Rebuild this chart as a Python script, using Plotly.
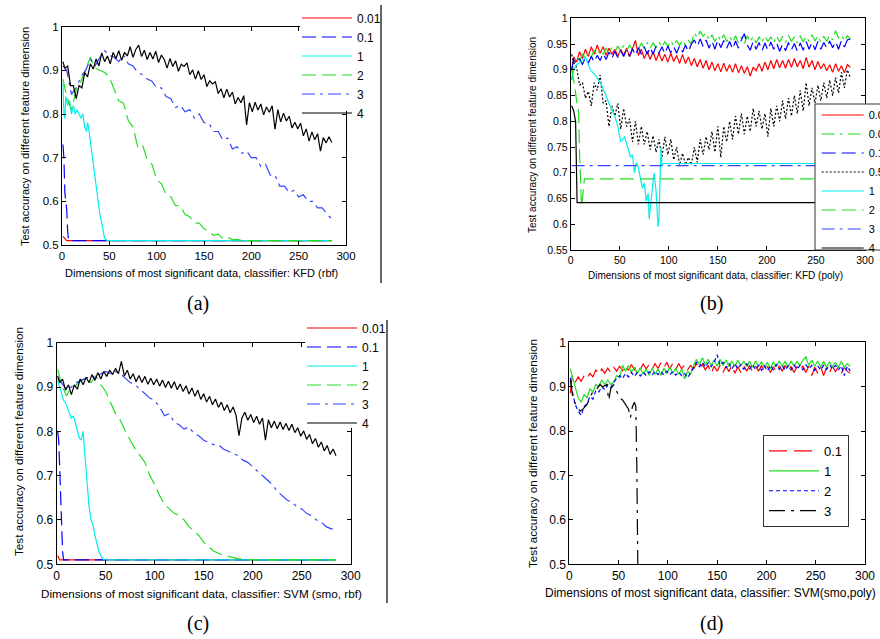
import plotly.graph_objects as go

# ---------------- data ----------------
DIMS = [1] + list(range(5, 286, 5))      # coarse grid of feature dimensions
DIMS3 = [1] + list(range(3, 286, 3))     # finer grid for the noisiest curves

X_TICKS = [0, 50, 100, 150, 200, 250, 300]
X_TICK_TEXT = ["0", "50", "100", "150", "200", "250", "300"]
Y_TICKS = [0.5, 0.6, 0.7, 0.8, 0.9, 1.0]
Y_TICK_TEXT = ["0.5", "0.6", "0.7", "0.8", "0.9", "1"]
Y_TICKS_B = [0.55, 0.6, 0.65, 0.7, 0.75, 0.8, 0.85, 0.9, 0.95, 1.0]
Y_TICK_TEXT_B = ["0.55", "0.6", "0.65", "0.7", "0.75", "0.8", "0.85", "0.9", "0.95", "1"]

# (a) KFD (rbf)
A_001_X = [1, 3, 5, 285]
A_001_Y = [0.52, 0.515, 0.51, 0.51]
A_01_X = [1, 2, 3, 5, 6, 7, 285]
A_01_Y = [0.73, 0.70, 0.62, 0.58, 0.53, 0.51, 0.51]
A_1_X = [1, 2, 3, 4, 6, 8, 10, 12, 14, 16, 18, 20, 22, 24, 26, 27, 28, 30, 32, 34.5, 37, 40, 42, 45, 48, 285]
A_1_Y = [0.87, 0.80, 0.79, 0.84, 0.82, 0.83, 0.80, 0.82, 0.80, 0.81, 0.80, 0.79, 0.80, 0.77, 0.76, 0.78, 0.77,
         0.735, 0.70, 0.655, 0.61, 0.57, 0.55, 0.515, 0.51, 0.51]
A_2_Y = [0.88, 0.84, 0.81, 0.855, 0.875, 0.905, 0.93, 0.905, 0.90, 0.895,
         0.885, 0.855, 0.83, 0.825, 0.785, 0.77, 0.725, 0.73, 0.695, 0.685,
         0.65, 0.64, 0.615, 0.61, 0.59, 0.59, 0.57, 0.565, 0.55, 0.55,
         0.537, 0.532, 0.522, 0.525, 0.515, 0.518, 0.512, 0.513, 0.51, 0.51,
         0.51, 0.51, 0.51, 0.51, 0.51, 0.51, 0.51, 0.51, 0.51, 0.51,
         0.51, 0.51, 0.51, 0.51, 0.51, 0.51, 0.51, 0.51]
A_3_Y = [0.91, 0.90, 0.845, 0.86, 0.885, 0.90, 0.925, 0.91, 0.93, 0.945,
         0.935, 0.93, 0.92, 0.935, 0.915, 0.91, 0.895, 0.89, 0.88, 0.875,
         0.86, 0.86, 0.84, 0.835, 0.815, 0.82, 0.805, 0.81, 0.79, 0.80,
         0.78, 0.78, 0.76, 0.76, 0.74, 0.745, 0.72, 0.725, 0.71, 0.715,
         0.70, 0.70, 0.68, 0.685, 0.66, 0.66, 0.635, 0.635, 0.62, 0.625,
         0.61, 0.615, 0.60, 0.60, 0.585, 0.585, 0.57, 0.56]
A_4_Y = [0.92, 0.905, 0.91, 0.865, 0.865, 0.835, 0.865, 0.86, 0.895, 0.885,
         0.915, 0.903, 0.926, 0.91, 0.94, 0.92, 0.933, 0.915, 0.941, 0.927,
         0.945, 0.923, 0.941, 0.933, 0.954, 0.93, 0.948, 0.958, 0.932, 0.946,
         0.925, 0.941, 0.926, 0.944, 0.918, 0.935, 0.925, 0.905, 0.927, 0.909,
         0.922, 0.898, 0.914, 0.909, 0.917, 0.89, 0.901, 0.88, 0.899, 0.879,
         0.89, 0.863, 0.876, 0.869, 0.874, 0.847, 0.858, 0.837, 0.857, 0.839,
         0.85, 0.823, 0.838, 0.826, 0.842, 0.775, 0.826, 0.805, 0.827, 0.809,
         0.823, 0.798, 0.816, 0.804, 0.819, 0.765, 0.81, 0.782, 0.802, 0.784,
         0.795, 0.768, 0.781, 0.766, 0.779, 0.75, 0.766, 0.738, 0.759, 0.741,
         0.755, 0.715, 0.746, 0.734, 0.748, 0.735]

# (b) KFD (poly)
B_001_Y = [0.90, 0.925, 0.915, 0.935, 0.922, 0.94, 0.926, 0.945, 0.93, 0.948,
           0.932, 0.945, 0.928, 0.942, 0.93, 0.94, 0.926, 0.94, 0.928, 0.942,
           0.925, 0.94, 0.957, 0.928, 0.94, 0.922, 0.936, 0.92, 0.935, 0.918,
           0.932, 0.917, 0.93, 0.915, 0.932, 0.916, 0.928, 0.912, 0.93, 0.912,
           0.925, 0.908, 0.922, 0.906, 0.92, 0.903, 0.918, 0.9, 0.915, 0.898,
           0.912, 0.896, 0.913, 0.897, 0.91, 0.895, 0.912, 0.894, 0.908, 0.893,
           0.906, 0.888, 0.905, 0.898, 0.912, 0.897, 0.915, 0.9, 0.918, 0.902,
           0.92, 0.904, 0.918, 0.903, 0.92, 0.905, 0.922, 0.906, 0.918, 0.902,
           0.924, 0.905, 0.918, 0.9, 0.916, 0.902, 0.912, 0.898, 0.91, 0.895,
           0.912, 0.897, 0.908, 0.894, 0.91, 0.905]
B_005_Y = [0.88, 0.91, 0.925, 0.918, 0.93, 0.922, 0.935, 0.925, 0.938, 0.928,
           0.94, 0.93, 0.942, 0.932, 0.944, 0.934, 0.946, 0.936, 0.947, 0.937,
           0.948, 0.938, 0.95, 0.94, 0.952, 0.941, 0.953, 0.942, 0.952, 0.943,
           0.954, 0.944, 0.955, 0.945, 0.956, 0.946, 0.957, 0.947, 0.958, 0.948,
           0.957, 0.95, 0.972, 0.962, 0.975, 0.965, 0.972, 0.958, 0.968, 0.955,
           0.967, 0.956, 0.968, 0.955, 0.965, 0.953, 0.966, 0.952, 0.964, 0.951,
           0.966, 0.954, 0.965, 0.952, 0.964, 0.953, 0.966, 0.955, 0.964, 0.952,
           0.966, 0.954, 0.965, 0.953, 0.967, 0.955, 0.964, 0.952, 0.966, 0.954,
           0.965, 0.955, 0.968, 0.956, 0.966, 0.954, 0.965, 0.955, 0.967, 0.958,
           0.976, 0.962, 0.968, 0.955, 0.966, 0.96]
B_01_Y = [0.90, 0.92, 0.912, 0.922, 0.91, 0.924, 0.913, 0.926, 0.915, 0.928,
          0.918, 0.932, 0.92, 0.934, 0.922, 0.936, 0.924, 0.937, 0.926, 0.94,
          0.927, 0.941, 0.928, 0.943, 0.93, 0.945, 0.93, 0.944, 0.93, 0.946,
          0.932, 0.945, 0.931, 0.946, 0.933, 0.945, 0.932, 0.947, 0.934, 0.948,
          0.935, 0.95, 0.958, 0.945, 0.96, 0.945, 0.958, 0.942, 0.956, 0.94,
          0.958, 0.943, 0.957, 0.942, 0.955, 0.94, 0.956, 0.942, 0.958, 0.97,
          0.948, 0.938, 0.955, 0.94, 0.953, 0.937, 0.952, 0.938, 0.954, 0.94,
          0.952, 0.936, 0.95, 0.937, 0.953, 0.939, 0.951, 0.936, 0.952, 0.938,
          0.955, 0.94, 0.954, 0.939, 0.955, 0.94, 0.953, 0.942, 0.956, 0.943,
          0.955, 0.94, 0.957, 0.944, 0.958, 0.96]
B_05_Y = [0.93, 0.915, 0.905, 0.87, 0.875, 0.845, 0.858, 0.83, 0.875, 0.86,
          0.89, 0.835, 0.84, 0.79, 0.83, 0.81, 0.835, 0.785, 0.825, 0.79,
          0.805, 0.76, 0.80, 0.755, 0.79, 0.755, 0.78, 0.745, 0.772, 0.74,
          0.765, 0.73, 0.77, 0.735, 0.765, 0.725, 0.75, 0.715, 0.738, 0.715,
          0.73, 0.715, 0.75, 0.72, 0.765, 0.735, 0.77, 0.745, 0.78, 0.74,
          0.79, 0.73, 0.79, 0.76, 0.80, 0.765, 0.81, 0.775, 0.815, 0.775,
          0.81, 0.78, 0.825, 0.79, 0.82, 0.785, 0.815, 0.77, 0.825, 0.79,
          0.83, 0.80, 0.84, 0.805, 0.845, 0.81, 0.85, 0.815, 0.86, 0.82,
          0.875, 0.83, 0.865, 0.835, 0.87, 0.84, 0.875, 0.845, 0.88, 0.85,
          0.885, 0.855, 0.895, 0.865, 0.90, 0.885]
B_1_X = [1, 3, 6, 10, 15, 20, 25, 30, 35, 40, 45, 48, 51, 55, 58, 61, 63, 65, 67, 69, 71, 73, 75, 77, 79,
         80, 81, 82, 84, 85, 87, 89, 90, 92, 93, 95, 285]
B_1_Y = [0.88, 0.90, 0.91, 0.915, 0.925, 0.90, 0.89, 0.875, 0.855, 0.83, 0.81, 0.79, 0.76, 0.77, 0.75, 0.73,
         0.735, 0.70, 0.72, 0.71, 0.69, 0.67, 0.68, 0.645, 0.66, 0.61, 0.63, 0.645, 0.68, 0.70, 0.665, 0.595,
         0.61, 0.75, 0.715, 0.718, 0.718]
B_2_X = [1, 4, 6, 8, 9, 10, 11, 12, 13, 14, 285]
B_2_Y = [0.90, 0.87, 0.84, 0.82, 0.74, 0.66, 0.635, 0.65, 0.665, 0.688, 0.688]
B_3_X = [1, 285]
B_3_Y = [0.714, 0.714]
B_4_X = [1, 3, 5, 5.5, 6.5, 285]
B_4_Y = [0.83, 0.82, 0.80, 0.70, 0.642, 0.642]

# (c) SVM (smo, rbf)
C_001_X = [1, 3, 5, 285]
C_001_Y = [0.52, 0.51, 0.51, 0.51]
C_01_X = [1, 2, 3, 4, 5, 6, 7, 285]
C_01_Y = [0.80, 0.78, 0.72, 0.64, 0.58, 0.53, 0.51, 0.51]
C_1_X = [1, 3, 5, 7, 9, 11, 13, 15, 17, 19, 21, 23, 25, 27, 29, 31, 33, 35, 37, 39, 41, 43, 45, 48, 285]
C_1_Y = [0.915, 0.90, 0.89, 0.87, 0.865, 0.85, 0.84, 0.83, 0.835, 0.82, 0.80, 0.785, 0.78, 0.80, 0.74,
         0.68, 0.63, 0.60, 0.59, 0.565, 0.545, 0.53, 0.52, 0.51, 0.51]
C_2_Y = [0.94, 0.905, 0.88, 0.90, 0.905, 0.915, 0.92, 0.91, 0.925, 0.905,
         0.89, 0.865, 0.84, 0.825, 0.80, 0.78, 0.76, 0.745, 0.73, 0.70,
         0.68, 0.655, 0.635, 0.625, 0.615, 0.61, 0.60, 0.585, 0.575, 0.565,
         0.55, 0.54, 0.53, 0.525, 0.52, 0.518, 0.515, 0.513, 0.512, 0.51,
         0.51, 0.51, 0.51, 0.51, 0.51, 0.51, 0.51, 0.51, 0.51, 0.51,
         0.51, 0.51, 0.51, 0.51, 0.51, 0.51, 0.51, 0.51]
C_3_Y = [0.92, 0.91, 0.895, 0.90, 0.91, 0.915, 0.92, 0.925, 0.92, 0.93,
         0.935, 0.93, 0.935, 0.93, 0.92, 0.91, 0.905, 0.895, 0.885, 0.875,
         0.87, 0.855, 0.835, 0.84, 0.82, 0.815, 0.805, 0.81, 0.795, 0.79,
         0.78, 0.775, 0.77, 0.77, 0.76, 0.755, 0.75, 0.745, 0.735, 0.73,
         0.72, 0.71, 0.70, 0.69, 0.68, 0.665, 0.655, 0.645, 0.64, 0.63,
         0.625, 0.615, 0.61, 0.60, 0.595, 0.585, 0.58, 0.58]
C_4_Y = [0.925, 0.91, 0.918, 0.893, 0.905, 0.883, 0.905, 0.895, 0.918, 0.905,
         0.922, 0.91, 0.928, 0.915, 0.932, 0.918, 0.935, 0.924, 0.938, 0.928,
         0.942, 0.93, 0.958, 0.925, 0.938, 0.918, 0.93, 0.912, 0.926, 0.91,
         0.924, 0.906, 0.92, 0.905, 0.918, 0.902, 0.916, 0.899, 0.913, 0.897,
         0.912, 0.894, 0.907, 0.89, 0.903, 0.884, 0.898, 0.879, 0.893, 0.872,
         0.885, 0.866, 0.879, 0.86, 0.873, 0.854, 0.866, 0.847, 0.86, 0.842,
         0.855, 0.836, 0.79, 0.83, 0.843, 0.825, 0.838, 0.82, 0.834, 0.816,
         0.83, 0.78, 0.826, 0.808, 0.823, 0.806, 0.821, 0.804, 0.818, 0.802,
         0.816, 0.797, 0.808, 0.789, 0.801, 0.782, 0.793, 0.772, 0.784, 0.764,
         0.776, 0.756, 0.768, 0.748, 0.76, 0.745]

# (d) SVM (smo, poly)
D_01_Y = [0.885, 0.925, 0.91, 0.922, 0.912, 0.925, 0.918, 0.93, 0.922, 0.938,
          0.928, 0.94, 0.93, 0.942, 0.932, 0.944, 0.935, 0.946, 0.936, 0.948,
          0.937, 0.95, 0.938, 0.949, 0.939, 0.951, 0.94, 0.95, 0.94, 0.952,
          0.941, 0.954, 0.942, 0.955, 0.94, 0.953, 0.938, 0.952, 0.94, 0.95,
          0.938, 0.948, 0.94, 0.952, 0.94, 0.95, 0.938, 0.948, 0.93, 0.946,
          0.935, 0.948, 0.932, 0.946, 0.934, 0.948, 0.93, 0.945, 0.932, 0.947,
          0.935, 0.948, 0.933, 0.946, 0.935, 0.948, 0.934, 0.946, 0.932, 0.945,
          0.933, 0.947, 0.935, 0.948, 0.934, 0.946, 0.932, 0.945, 0.935, 0.947,
          0.932, 0.946, 0.925, 0.944, 0.93, 0.945, 0.925, 0.944, 0.932, 0.946,
          0.934, 0.945, 0.93, 0.944, 0.935, 0.93]
D_1_Y = [0.94, 0.925, 0.9, 0.875, 0.865, 0.882, 0.875, 0.895, 0.888, 0.905,
         0.9, 0.915, 0.905, 0.915, 0.905, 0.91, 0.925, 0.92, 0.948, 0.935,
         0.948, 0.932, 0.944, 0.93, 0.942, 0.928, 0.94, 0.926, 0.942, 0.928,
         0.94, 0.925, 0.942, 0.93, 0.944, 0.93, 0.942, 0.928, 0.94, 0.918,
         0.935, 0.928, 0.948, 0.962, 0.95, 0.965, 0.95, 0.962, 0.948, 0.96,
         0.946, 0.962, 0.948, 0.96, 0.945, 0.958, 0.946, 0.96, 0.947, 0.958,
         0.945, 0.957, 0.944, 0.958, 0.946, 0.956, 0.943, 0.955, 0.94, 0.956,
         0.945, 0.958, 0.946, 0.957, 0.944, 0.958, 0.946, 0.957, 0.948, 0.96,
         0.967, 0.948, 0.96, 0.946, 0.958, 0.945, 0.957, 0.944, 0.956, 0.945,
         0.955, 0.943, 0.957, 0.944, 0.952, 0.946]
D_2_Y = [0.92, 0.89, 0.86, 0.845, 0.835, 0.855, 0.862, 0.878, 0.872, 0.892,
         0.888, 0.9, 0.893, 0.905, 0.898, 0.91, 0.918, 0.925, 0.918, 0.93,
         0.922, 0.932, 0.923, 0.932, 0.924, 0.933, 0.925, 0.934, 0.926, 0.935,
         0.927, 0.934, 0.926, 0.935, 0.927, 0.934, 0.926, 0.933, 0.925, 0.93,
         0.92, 0.932, 0.945, 0.955, 0.945, 0.955, 0.944, 0.954, 0.945, 0.955,
         0.972, 0.948, 0.955, 0.942, 0.953, 0.94, 0.952, 0.94, 0.95, 0.939,
         0.952, 0.94, 0.95, 0.938, 0.948, 0.937, 0.947, 0.936, 0.948, 0.938,
         0.95, 0.939, 0.948, 0.937, 0.947, 0.938, 0.949, 0.939, 0.948, 0.938,
         0.949, 0.94, 0.948, 0.937, 0.947, 0.938, 0.948, 0.939, 0.949, 0.94,
         0.948, 0.938, 0.947, 0.925, 0.946, 0.935]
D_3_X = [1, 4, 8, 11, 14, 18, 21, 24, 28, 31, 34, 38, 40, 42, 45, 48, 51, 54, 57, 60, 62, 64, 66, 67.5, 68.5, 69.5]
D_3_Y = [0.915, 0.87, 0.855, 0.845, 0.85, 0.86, 0.875, 0.89, 0.895, 0.905, 0.90, 0.905, 0.87, 0.895, 0.905,
         0.89, 0.875, 0.87, 0.86, 0.85, 0.83, 0.855, 0.865, 0.855, 0.72, 0.50]

# ---------------- styling ----------------
W, H = 880, 639
RED, BLUE, CYAN, GREEN, BLACK = "#ff0000", "#0000ff", "#00eeee", "#22dd22", "#000000"
BLUE3 = "#3344ff"
DASH = "14px,6px"
DASHDOT = "13px,5px,3px,5px"
DOT = "2px,2px"
SANS = "Liberation Sans, Arial, sans-serif"
SERIF = "Liberation Serif, Times New Roman, serif"
LW = 1.2

fig = go.Figure()


def add(x, y, name, color, dash, ax, legend):
    xa = "x" if ax == 1 else "x%d" % ax
    ya = "y" if ax == 1 else "y%d" % ax
    fig.add_trace(go.Scatter(x=x, y=y, name=name, mode="lines",
                             line=dict(color=color, width=LW, dash=dash),
                             xaxis=xa, yaxis=ya, legend=legend))


add(A_001_X, A_001_Y, "0.01", RED, "solid", 1, "legend")
add(A_01_X, A_01_Y, "0.1", BLUE, DASH, 1, "legend")
add(A_1_X, A_1_Y, "1", CYAN, "solid", 1, "legend")
add(DIMS, A_2_Y, "2", GREEN, DASH, 1, "legend")
add(DIMS, A_3_Y, "3", BLUE3, DASHDOT, 1, "legend")
add(DIMS3, A_4_Y, "4", BLACK, "solid", 1, "legend")

add(DIMS3, B_001_Y, "0.01", RED, "solid", 2, "legend2")
add(DIMS3, B_005_Y, "0.05", GREEN, DASHDOT, 2, "legend2")
add(DIMS3, B_01_Y, "0.1", BLUE, DASH, 2, "legend2")
add(DIMS3, B_05_Y, "0.5", BLACK, DOT, 2, "legend2")
add(B_1_X, B_1_Y, "1", CYAN, "solid", 2, "legend2")
add(B_2_X, B_2_Y, "2", GREEN, DASH, 2, "legend2")
add(B_3_X, B_3_Y, "3", BLUE3, DASHDOT, 2, "legend2")
add(B_4_X, B_4_Y, "4", BLACK, "solid", 2, "legend2")

add(C_001_X, C_001_Y, "0.01", RED, "solid", 3, "legend3")
add(C_01_X, C_01_Y, "0.1", BLUE, DASH, 3, "legend3")
add(C_1_X, C_1_Y, "1", CYAN, "solid", 3, "legend3")
add(DIMS, C_2_Y, "2", GREEN, DASH, 3, "legend3")
add(DIMS, C_3_Y, "3", BLUE3, DASHDOT, 3, "legend3")
add(DIMS3, C_4_Y, "4", BLACK, "solid", 3, "legend3")

add(DIMS3, D_01_Y, "0.1", RED, "18px,7px", 4, "legend4")
add(DIMS3, D_1_Y, "1", GREEN, "solid", 4, "legend4")
add(DIMS3, D_2_Y, "2", BLUE, "4px,3px", 4, "legend4")
add(D_3_X, D_3_Y, "3", BLACK, "16px,6px,3px,6px", 4, "legend4")


def px_x(p):
    return p / W


def px_y(p):
    return 1 - p / H


def axis(domain, anchor, tickvals, ticktext, rng, fs):
    return dict(domain=domain, anchor=anchor, range=rng, tickvals=tickvals, ticktext=ticktext,
                showline=True, linecolor="black", linewidth=1, mirror="ticks",
                ticks="inside", ticklen=4, tickwidth=1, tickcolor="black",
                showgrid=False, zeroline=False, fixedrange=True,
                tickfont=dict(family=SANS, size=fs, color="black"))


panels = {
    1: ([62, 346], [26.7, 245], Y_TICKS, Y_TICK_TEXT, [0.5, 1.0], 11.5),
    2: ([570.7, 865], [18.3, 250], Y_TICKS_B, Y_TICK_TEXT_B, [0.55, 1.0], 10.5),
    3: ([56.7, 350.7], [342.7, 564.3], Y_TICKS, Y_TICK_TEXT, [0.5, 1.0], 12),
    4: ([569.3, 865], [342.3, 564.3], Y_TICKS, Y_TICK_TEXT, [0.5, 1.0], 12),
}
lay = {}
for k, (xs, ys, yt, ytt, yr, fs) in panels.items():
    sx = "" if k == 1 else str(k)
    lay["xaxis" + sx] = axis([px_x(xs[0]), px_x(xs[1])], "y" + sx, X_TICKS, X_TICK_TEXT, [0, 300], fs)
    lay["yaxis" + sx] = axis([px_y(ys[1]), px_y(ys[0])], "x" + sx, yt, ytt, yr, fs)

legend_common = dict(xanchor="left", yanchor="top", traceorder="normal",
                     itemclick=False, itemdoubleclick=False)
lay["legend"] = dict(x=px_x(297), y=px_y(3.5), bgcolor="rgba(0,0,0,0)", borderwidth=0, itemwidth=50,
                     font=dict(family=SANS, size=12, color="black"), **legend_common)
lay["legend2"] = dict(x=px_x(816.7), y=px_y(100.5), bgcolor="rgba(0,0,0,0)", borderwidth=0, itemwidth=42,
                      font=dict(family=SANS, size=11, color="black"), **legend_common)
lay["legend3"] = dict(x=px_x(302), y=px_y(313.5), bgcolor="rgba(0,0,0,0)", borderwidth=0, itemwidth=50,
                      font=dict(family=SANS, size=12, color="black"), **legend_common)
lay["legend4"] = dict(x=px_x(763), y=px_y(435), bgcolor="white", bordercolor="#333333", borderwidth=1,
                      itemwidth=50, font=dict(family=SANS, size=13, color="black"), **legend_common)

shapes = [
    dict(type="rect", xref="paper", yref="paper", x0=px_x(300), x1=px_x(381), y0=px_y(111), y1=px_y(0),
         fillcolor="white", line=dict(width=0), layer="above"),
    dict(type="line", xref="paper", yref="paper", x0=px_x(381), x1=px_x(381), y0=px_y(283), y1=px_y(5),
         line=dict(color="black", width=1.2)),
    dict(type="rect", xref="paper", yref="paper", x0=px_x(305), x1=px_x(387), y0=px_y(428), y1=px_y(316),
         fillcolor="white", line=dict(width=0), layer="above"),
    dict(type="line", xref="paper", yref="paper", x0=px_x(387), x1=px_x(387), y0=px_y(603), y1=px_y(320),
         line=dict(color="black", width=1.2)),
    dict(type="rect", xref="paper", yref="paper", x0=px_x(815), x1=px_x(895), y0=px_y(250), y1=px_y(104),
         fillcolor="white", line=dict(color="#333333", width=1), layer="above"),
]

ann = []


def text(x, y, s, size=12, family=SANS, angle=0, xanchor="center"):
    ann.append(dict(x=px_x(x), y=px_y(y), xref="paper", yref="paper", text=s, showarrow=False,
                    xanchor=xanchor, yanchor="middle", textangle=angle,
                    font=dict(family=family, size=size, color="black")))


XL = "Dimensions of most significant data, classifier: "
YL = "Test accuracy on different feature dimension"
text(201, 273, XL + "KFD (rbf)", size=11)
text(715, 275, XL + "KFD (poly)", size=10)
text(201, 593, XL + "SVM (smo, rbf)", size=11.7)
text(543, 593, XL + "SVM(smo,poly)", size=12, xanchor="left")
text(25, 137, YL, size=11.2, angle=-90)
text(533, 135, YL, size=10, angle=-90)
text(18, 442, YL, size=11.7, angle=-90)
text(532, 454, YL, size=11.7, angle=-90)
text(198, 303, "(a)", size=20, family=SERIF)
text(711, 303, "(b)", size=20, family=SERIF)
text(198, 623, "(c)", size=20, family=SERIF)
text(711, 623, "(d)", size=20, family=SERIF)

fig.update_layout(width=W, height=H, margin=dict(l=0, r=0, t=0, b=0, autoexpand=False),
                  paper_bgcolor="white", plot_bgcolor="white", shapes=shapes, annotations=ann,
                  **lay)

fig.write_html("out.html", config={"displayModeBar": False},
               post_script="document.body.style.margin='0';")
